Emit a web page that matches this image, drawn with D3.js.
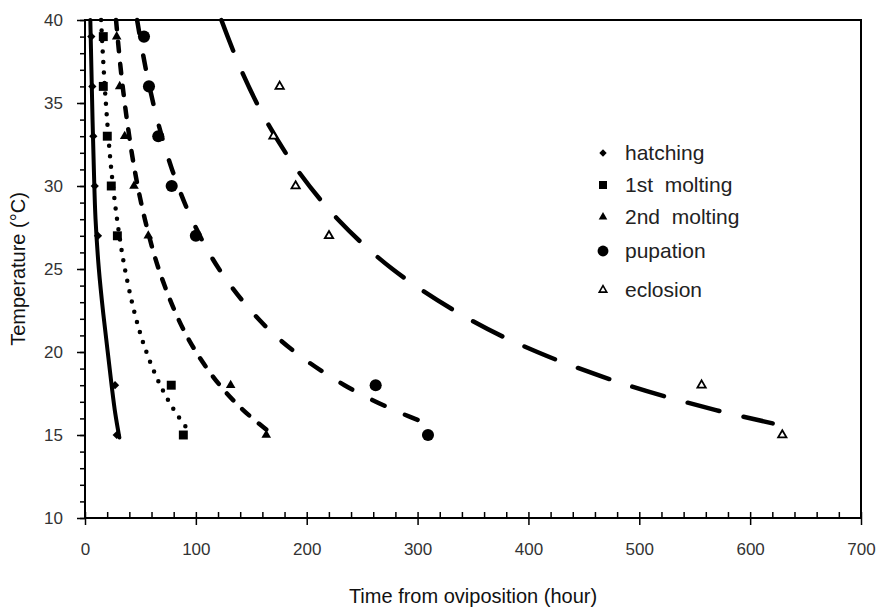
<!DOCTYPE html>
<html><head><meta charset="utf-8">
<script src="https://cdn.jsdelivr.net/npm/d3@7"></script>
<style>
body{margin:0;background:#fff}
text{font-family:"Liberation Sans",Arial,Helvetica,sans-serif}
</style>
</head><body>
<svg id="c" width="892" height="612"></svg>
<script>
// ---- data ----
const temps = [39, 36, 33, 30, 27, 18, 15];
const eclosionTemps = [36, 33, 30, 27, 18, 15];
const hatching = [5.7, 6.6, 7.5, 8.8, 11.7, 27.1, 28.6];
const molting1 = [16.5, 16.5, 20.1, 23.7, 29.2, 77.8, 88.7];
const molting2 = [28.6, 31.3, 35.8, 44.2, 57.1, 131.4, 163.5];
const pupation = [53.2, 57.7, 66.1, 78.2, 100.0, 262.2, 309.4];
const eclosion = [175.6, 170.0, 190.0, 220.1, 556.2, 629.0];

// trend curves as drawn in the picture: [hour, temperature]
const hatchingCurve = [[4.8,40],[5.8,37],[6.8,34],[8,31],[9.5,28],[12.5,25],[16.5,22.3],[20.5,20],[24,18],[27.3,16.3],[31,14.85]];
const molting1Curve = [[14.5,40],[16.9,37],[19.9,34],[23.7,31],[28.9,28],[36,25],[46.1,22],[55.4,20],[67.9,18],[80.4,16.5],[93,15.3]];
const molting2Curve = [[28,40],[32.3,37],[37.8,34],[44.7,31],[54,28],[66.5,25],[84.1,22],[100.2,20],[121.6,18],[142.7,16.5],[165.9,15.2]];
const pupationCurve = [[47,40],[55,37],[65.2,34],[78.5,31],[96.3,28],[120.9,25],[156.3,22],[189.4,20],[234.1,18],[278.8,16.5],[316.1,15.5]];
const eclosionCurve = [[123,40],[140.8,37],[162.9,34],[191.2,31],[228,28],[277.3,25],[346,22],[408,20],[489.6,18],[569.1,16.5],[620.3,15.7]];

const seriesNames = ["hatching", "1st  molting", "2nd  molting", "pupation", "eclosion"];
const xMajor = [0, 100, 200, 300, 400, 500, 600, 700];
const yMajor = [10, 15, 20, 25, 30, 35, 40];
const xTitle = "Time from oviposition (hour)";
const yTitle = "Temperature (°C)";

// ---- chart ----
const svg = d3.select("#c");
const L = 85, R = 861, T = 20, B = 518;
const x = d3.scaleLinear().domain([0, 700]).range([L, R]);
const y = d3.scaleLinear().domain([10, 40]).range([B, T]);
const FONT = '"Liberation Sans",Arial,sans-serif';

const xMinor = d3.range(0, 701, 20);
const yMinor = d3.range(10, 41, 1);

// minor ticks x (inside)
svg.append("g").attr("transform", `translate(0,${B})`)
  .call(d3.axisTop(x).tickValues(xMinor).tickSize(6).tickFormat(""))
  .call(g => g.select(".domain").remove())
  .selectAll("line").attr("stroke", "#000").attr("stroke-width", 1.5);
// major ticks x (outside) with labels
const gx = svg.append("g").attr("transform", `translate(0,${B})`)
  .call(d3.axisBottom(x).tickValues(xMajor).tickSize(7).tickPadding(18).tickFormat(d3.format("d")));
gx.select(".domain").remove();
gx.selectAll("line").attr("stroke", "#000").attr("stroke-width", 1.5);
gx.selectAll("text").attr("font-size", 17).attr("fill", "#333").style("font-family", FONT);

// minor ticks y (outside)
svg.append("g").attr("transform", `translate(${L},0)`)
  .call(d3.axisLeft(y).tickValues(yMinor).tickSize(5).tickFormat(""))
  .call(g => g.select(".domain").remove())
  .selectAll("line").attr("stroke", "#000").attr("stroke-width", 1.5);
const gy = svg.append("g").attr("transform", `translate(${L},0)`)
  .call(d3.axisLeft(y).tickValues(yMajor).tickSize(8).tickPadding(14).tickFormat(d3.format("d")));
gy.select(".domain").remove();
gy.selectAll("line").attr("stroke", "#000").attr("stroke-width", 1.5);
gy.selectAll("text").attr("font-size", 17).attr("fill", "#333").style("font-family", FONT);

// frame
svg.append("rect").attr("x", L).attr("y", T).attr("width", R - L).attr("height", B - T)
  .attr("fill", "none").attr("stroke", "#000").attr("stroke-width", 2);

// curves
const line = d3.line().x(d => x(d[0])).y(d => y(d[1])).curve(d3.curveCatmullRom.alpha(0.5));
const curveStyles = [
  {data: hatchingCurve, dash: null, w: 4},
  {data: molting1Curve, dash: "0 10.5", w: 4.5},
  {data: molting2Curve, dash: "9.5 12.5", w: 4.5},
  {data: pupationCurve, dash: "13.5 22.5", w: 4.5},
  {data: eclosionCurve, dash: "33 24.5", w: 4.5}
];
curveStyles.forEach(c => {
  svg.append("path").attr("d", line(c.data)).attr("fill", "none")
    .attr("stroke", "#000").attr("stroke-width", c.w)
    .attr("stroke-linecap", "round")
    .attr("stroke-dasharray", c.dash);
});

// markers
const diamond = d3.symbol().type(d3.symbolSquare).size(34)();
const square = d3.symbol().type(d3.symbolSquare).size(80)();
const tri = d3.symbol().type(d3.symbolTriangle).size(40)();
const circle = d3.symbol().type(d3.symbolCircle).size(115)();
const otri = d3.symbol().type(d3.symbolTriangle).size(30)();

const markerDefs = [
  {vals: hatching, t: temps, path: diamond, rot: 45, open: false},
  {vals: molting1, t: temps, path: square, rot: 0, open: false},
  {vals: molting2, t: temps, path: tri, rot: 0, open: false},
  {vals: pupation, t: temps, path: circle, rot: 0, open: false},
  {vals: eclosion, t: eclosionTemps, path: otri, rot: 0, open: true}
];
function drawMarker(g, m) {
  return g.append("path").attr("d", m.path)
    .attr("fill", m.open ? "#fff" : "#000")
    .attr("stroke", m.open ? "#000" : "none")
    .attr("stroke-width", m.open ? 1.8 : 0);
}
markerDefs.forEach(m => {
  m.vals.forEach((v, i) => {
    drawMarker(svg, m).attr("transform", `translate(${x(v)},${y(m.t[i])}) rotate(${m.rot})`);
  });
});

// legend
const legY = [153, 185, 217, 251, 290];
seriesNames.forEach((name, i) => {
  const yy = legY[i];
  drawMarker(svg, markerDefs[i])
    .attr("transform", `translate(603,${yy}) rotate(${markerDefs[i].rot}) scale(0.9)`);
  svg.append("text").attr("x", 625).attr("y", yy).attr("dy", "0.35em")
    .attr("font-size", 21).attr("fill", "#222").style("white-space", "pre")
    .text(name);
});

// axis titles
svg.append("text").attr("x", (L + R) / 2).attr("y", 603).attr("text-anchor", "middle")
  .attr("font-size", 20).attr("fill", "#111").text(xTitle);
svg.append("text").attr("transform", `translate(25,${(T + B) / 2}) rotate(-90)`)
  .attr("text-anchor", "middle").attr("font-size", 20).attr("fill", "#111").text(yTitle);
</script>
</body></html>
